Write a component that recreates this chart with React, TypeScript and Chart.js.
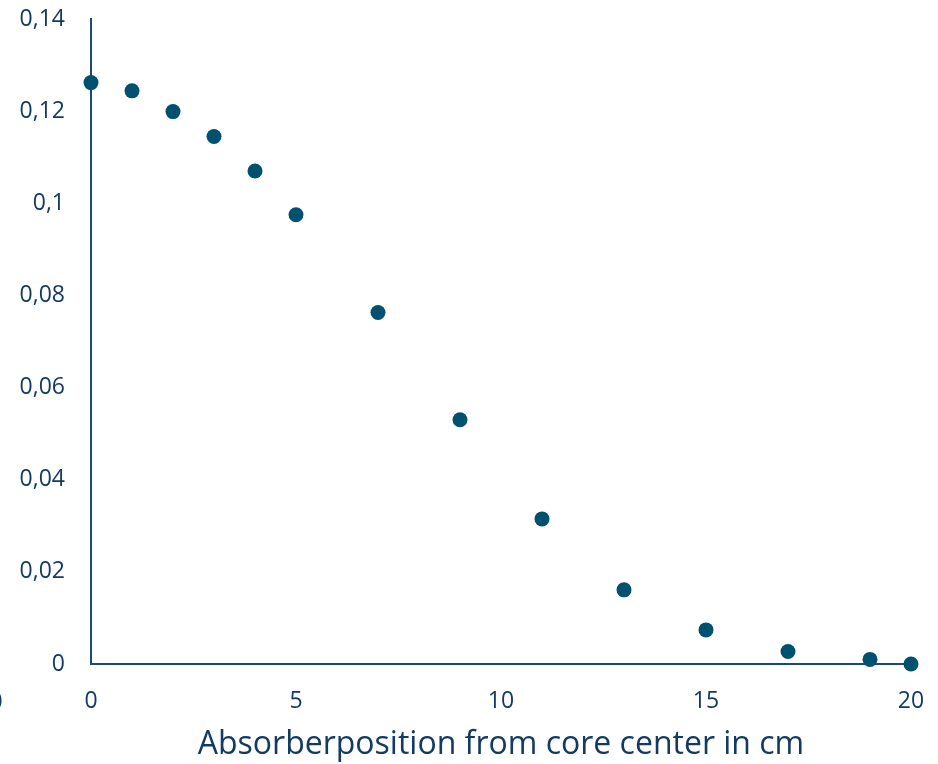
import React, { useEffect, useRef } from "react";
import { Chart, registerables } from "chart.js";

Chart.register(...registerables);

// Absorber position (cm) and measured values
const positions: number[] = [0, 1, 2, 3, 4, 5, 7, 9, 11, 13, 15, 17, 19, 20];
const values: number[] = [
  0.1262, 0.1244, 0.1199, 0.1145, 0.107, 0.0975, 0.0763, 0.053, 0.0315,
  0.0161, 0.0074, 0.0027, 0.001, 0,
];

const xTitle = "Absorberposition from core center in cm";
const xMin = 0;
const xMax = 20;
const xStep = 5;
const yMin = 0;
const yMax = 0.14;
const yStep = 0.02;

const TEXT = "#123b64";
const AXIS = "#1c4a76";
const POINT = "#00506f";
const FONT = "'Open Sans', 'Noto Sans', sans-serif";

const formatComma = (v: number) => {
  const r = Math.round(v * 1000) / 1000;
  return r === 0 ? "0" : String(r).replace(".", ",");
};

// Draws the partially visible leading "0" at the left edge of the x tick row
const edgeLabel = {
  id: "edgeLabel",
  afterDraw(chart: Chart) {
    const { ctx } = chart;
    const x = chart.scales.x;
    ctx.save();
    ctx.font = `23px ${FONT}`;
    ctx.fillStyle = TEXT;
    ctx.textAlign = "center";
    ctx.textBaseline = "middle";
    ctx.fillText("0", -4, x.top + 38);
    ctx.restore();
  },
};

export default function App() {
  const ref = useRef<HTMLCanvasElement | null>(null);

  useEffect(() => {
    if (!ref.current) return;
    const chart = new Chart(ref.current, {
      type: "scatter",
      data: {
        datasets: [
          {
            data: positions.map((p, i) => ({ x: p, y: values[i] })),
            backgroundColor: POINT,
            borderColor: POINT,
            borderWidth: 0,
            pointRadius: 7.5,
            pointHoverRadius: 7.5,
            clip: false as any,
          },
        ],
      },
      options: {
        animation: false,
        responsive: false,
        maintainAspectRatio: false,
        layout: { padding: { top: 19, right: 27, left: 0, bottom: 0 } },
        plugins: {
          legend: { display: false },
          tooltip: { enabled: false },
        },
        scales: {
          x: {
            type: "linear",
            min: xMin,
            max: xMax,
            afterFit: (s: any) => {
              s.height = 100;
              s.paddingLeft = 0;
              s.paddingRight = 0;
            },
            ticks: {
              stepSize: xStep,
              color: TEXT,
              padding: 24,
              font: { family: FONT, size: 23 },
              callback: (v: any) => formatComma(Number(v)),
            },
            grid: { drawOnChartArea: false, drawTicks: false },
            border: { display: true, color: AXIS, width: 2 },
            title: {
              display: true,
              text: xTitle,
              color: TEXT,
              font: { family: FONT, size: 32 },
              padding: { top: 0, bottom: 0 },
            },
          },
          y: {
            type: "linear",
            min: yMin,
            max: yMax,
            afterFit: (s: any) => {
              s.width = 91;
              s.paddingTop = 0;
              s.paddingBottom = 0;
            },
            ticks: {
              stepSize: yStep,
              color: TEXT,
              padding: 26,
              font: { family: FONT, size: 23 },
              callback: (v: any) => formatComma(Number(v)),
            },
            grid: { drawOnChartArea: false, drawTicks: false },
            border: { display: true, color: AXIS, width: 2 },
          },
        },
      },
      plugins: [edgeLabel],
    });
    return () => chart.destroy();
  }, []);

  return (
    <div style={{ position: "fixed", left: 0, top: 0, width: 938, height: 764, background: "#fff" }}>
      <canvas ref={ref} width={938} height={764} style={{ width: 938, height: 764, display: "block" }} />
    </div>
  );
}
